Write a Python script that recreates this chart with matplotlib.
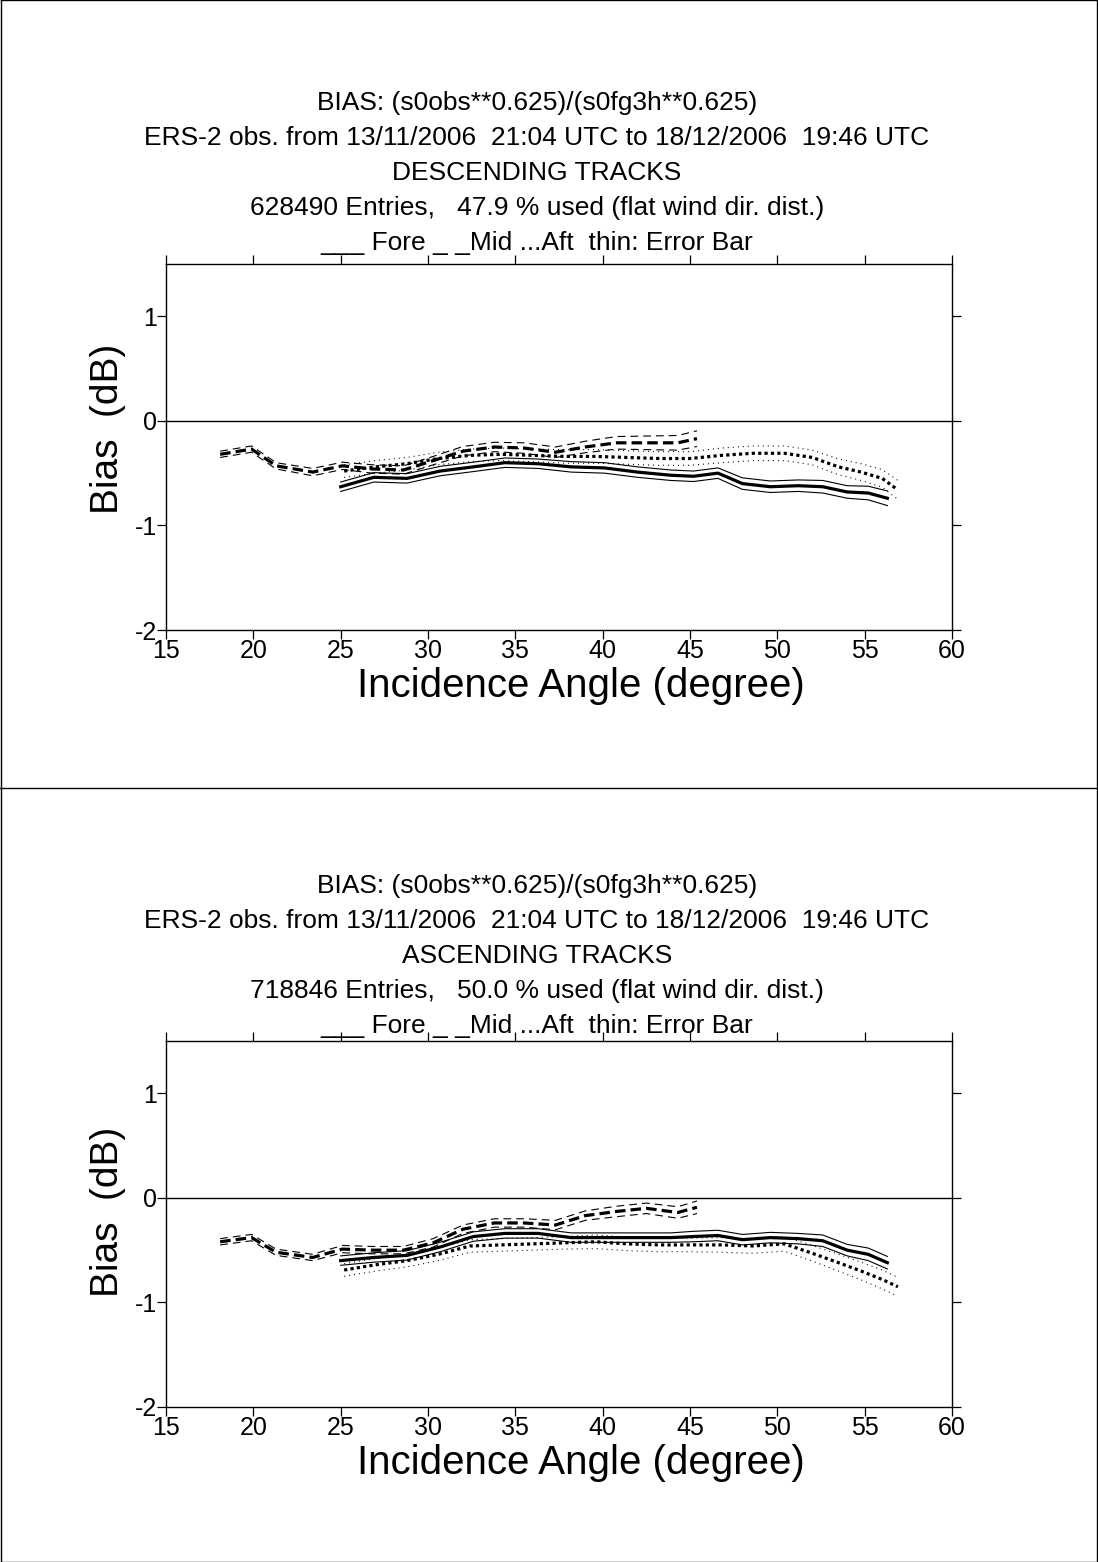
import numpy as np
import matplotlib
matplotlib.use('Agg')
import matplotlib.pyplot as plt
from matplotlib.lines import Line2D

plt.rcParams['font.family'] = ['Liberation Sans', 'DejaVu Sans']
plt.rcParams['axes.unicode_minus'] = False

# incidence angles of the bins for each beam
mid_angle = [18.1, 19.9, 21.3, 23.4, 25.1, 26.8, 28.6, 30.3, 32.0, 33.8, 35.5, 37.3, 39.0, 40.8, 42.5, 44.3, 45.4]
fore_angle = [25.0, 26.9, 28.8, 30.7, 32.6, 34.4, 36.3, 38.2, 40.1, 42.0, 43.9, 45.2, 46.6, 48.0, 49.6, 51.2, 52.6, 54.0, 55.2, 56.3]
aft_angle = [25.2, 27.0, 28.8, 30.6, 32.4, 34.2, 36.0, 37.8, 39.6, 41.4, 43.2, 45.0, 46.8, 48.6, 50.4, 52.0, 53.5, 54.8, 56.0, 56.9]

# descending tracks
desc_mid = [-0.32, -0.27, -0.43, -0.49, -0.43, -0.46, -0.47, -0.38, -0.29, -0.25, -0.26, -0.30, -0.25, -0.21, -0.21, -0.21, -0.17]
desc_mid_err = [0.03, 0.03, 0.03, 0.035, 0.035, 0.04, 0.04, 0.04, 0.045, 0.045, 0.05, 0.05, 0.055, 0.06, 0.065, 0.07, 0.075]
desc_fore = [-0.63, -0.54, -0.55, -0.48, -0.44, -0.40, -0.41, -0.44, -0.45, -0.49, -0.52, -0.53, -0.50, -0.60, -0.63, -0.62, -0.63, -0.68, -0.69, -0.74]
desc_fore_err = [0.045, 0.045, 0.045, 0.045, 0.045, 0.045, 0.045, 0.05, 0.05, 0.05, 0.05, 0.05, 0.05, 0.055, 0.055, 0.055, 0.06, 0.06, 0.065, 0.07]
desc_aft = [-0.48, -0.44, -0.41, -0.36, -0.33, -0.32, -0.33, -0.34, -0.34, -0.35, -0.36, -0.36, -0.33, -0.31, -0.31, -0.35, -0.44, -0.49, -0.55, -0.66]
desc_aft_err = [0.06, 0.06, 0.06, 0.06, 0.06, 0.06, 0.06, 0.065, 0.065, 0.065, 0.065, 0.065, 0.07, 0.07, 0.07, 0.07, 0.075, 0.08, 0.085, 0.09]

# ascending tracks
asc_mid = [-0.42, -0.38, -0.52, -0.57, -0.49, -0.50, -0.50, -0.43, -0.30, -0.24, -0.24, -0.26, -0.17, -0.13, -0.10, -0.14, -0.09]
asc_mid_err = [0.03, 0.03, 0.03, 0.03, 0.035, 0.035, 0.035, 0.04, 0.04, 0.04, 0.04, 0.045, 0.045, 0.05, 0.05, 0.055, 0.06]
asc_fore = [-0.60, -0.57, -0.55, -0.47, -0.37, -0.34, -0.34, -0.38, -0.38, -0.38, -0.38, -0.37, -0.36, -0.40, -0.38, -0.39, -0.41, -0.50, -0.54, -0.62]
asc_fore_err = [0.045, 0.045, 0.045, 0.045, 0.045, 0.045, 0.045, 0.045, 0.045, 0.045, 0.045, 0.05, 0.05, 0.05, 0.05, 0.05, 0.055, 0.055, 0.06, 0.06]
asc_aft = [-0.69, -0.64, -0.60, -0.54, -0.46, -0.45, -0.44, -0.43, -0.42, -0.44, -0.45, -0.45, -0.45, -0.46, -0.44, -0.53, -0.62, -0.70, -0.78, -0.85]
asc_aft_err = [0.06, 0.06, 0.06, 0.06, 0.06, 0.06, 0.06, 0.06, 0.065, 0.065, 0.065, 0.065, 0.07, 0.07, 0.07, 0.075, 0.08, 0.085, 0.09, 0.09]

x_ticks = [15, 20, 25, 30, 35, 40, 45, 50, 55, 60]
y_ticks = [-2, -1, 0, 1]

title_lines = ['BIAS: (s0obs**0.625)/(s0fg3h**0.625)',
               'ERS-2 obs. from 13/11/2006  21:04 UTC to 18/12/2006  19:46 UTC']
legend_line = '___ Fore _ _Mid ...Aft  thin: Error Bar'
desc_header = ['DESCENDING TRACKS', '628490 Entries,   47.9 % used (flat wind dir. dist.)']
asc_header = ['ASCENDING TRACKS', '718846 Entries,   50.0 % used (flat wind dir. dist.)']

W, H = 1098, 1562

# line styles: (thick style, thin style)
STYLES = {
    'fore': ('-', '-'),
    'mid': ((0, (3.3, 1.6)), (0, (7.0, 4.5))),
    'aft': ((0, (1.0, 1.0)), (0, (0.9, 3.6))),
}


def draw_beam(ax, x, y, err, beam):
    x = np.array(x)
    y = np.array(y)
    err = np.array(err)
    thick, thin = STYLES[beam]
    ax.plot(x, y + err, color='black', lw=0.8, linestyle=thin)
    ax.plot(x, y - err, color='black', lw=0.8, linestyle=thin)
    ax.plot(x, y, color='black', lw=2.3, linestyle=thick)


def draw_panel(fig, top_px, header, data, text_top):
    # axes box in pixels: left 166, right 952, height 366
    ax = fig.add_axes([166 / W, 1 - (top_px + 366) / H, 786 / W, 366 / H])
    ax.set_xlim(15, 60)
    ax.set_ylim(-2, 1.5)
    ax.axhline(0, color='black', lw=1.0)

    mid, mid_err, fore, fore_err, aft, aft_err = data
    draw_beam(ax, fore_angle, fore, fore_err, 'fore')
    draw_beam(ax, mid_angle, mid, mid_err, 'mid')
    draw_beam(ax, aft_angle, aft, aft_err, 'aft')

    ax.set_xticks(x_ticks)
    ax.set_yticks(y_ticks)
    ax.tick_params(direction='out', length=6.5, width=0.9, top=True, right=True,
                   labelsize=18, pad=0)
    for s in ax.spines.values():
        s.set_linewidth(1.0)

    fig.text(581 / W, 1 - (top_px + 422) / H, 'Incidence Angle (degree)',
             fontsize=29, ha='center', va='center')
    fig.text(108 / W, 1 - (text_top + 326) / H, 'Bias  (dB)', rotation=90,
             fontsize=28, ha='center', va='center')

    lines = [title_lines[0], title_lines[1], header[0], header[1], legend_line]
    for i, t in enumerate(lines):
        fig.text(537 / W, 1 - (text_top + 35 * i) / H, t, fontsize=19,
                 ha='center', va='center')
    return ax


def main():
    fig = plt.figure(figsize=(W / 100, H / 100), dpi=100)

    draw_panel(fig, 264, desc_header,
               (desc_mid, desc_mid_err, desc_fore, desc_fore_err, desc_aft, desc_aft_err), 103)
    draw_panel(fig, 1041, asc_header,
               (asc_mid, asc_mid_err, asc_fore, asc_fore_err, asc_aft, asc_aft_err), 886)

    # page frame and divider between the two plots
    fig.add_artist(Line2D([0.0005, 0.9995, 0.9995, 0.0005, 0.0005],
                          [0.9997, 0.9997, 0.0003, 0.0003, 0.9997],
                          transform=fig.transFigure, color='black', lw=1.0))
    fig.add_artist(Line2D([0, 1], [1 - 788 / H, 1 - 788 / H],
                          transform=fig.transFigure, color='black', lw=1.0))

    fig.savefig('out.png', dpi=100)


if __name__ == '__main__':
    main()
